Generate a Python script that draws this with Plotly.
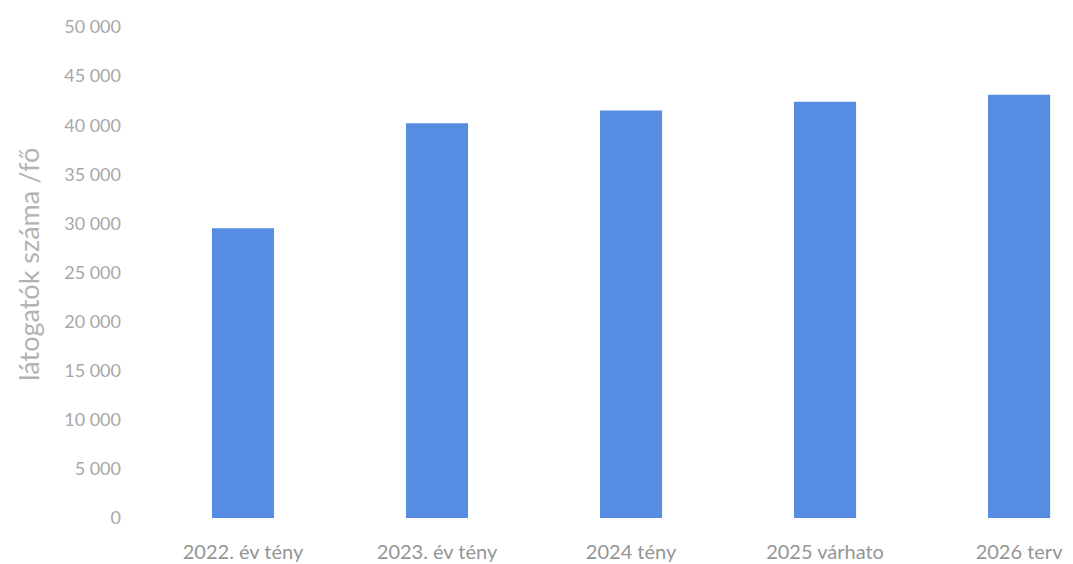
import plotly.graph_objects as go

categories = ["2022. év tény", "2023. év tény", "2024 tény", "2025 várhato", "2026 terv"]
visitors = [29500, 40200, 41500, 42400, 43100]
y_ticks = [0, 5000, 10000, 15000, 20000, 25000, 30000, 35000, 40000, 45000, 50000]
y_title = "látogatók száma /fő"

fig = go.Figure()
fig.add_trace(go.Bar(
    x=list(range(len(categories))),
    y=visitors,
    width=0.32,
    marker=dict(color="#568CE2", line=dict(width=0)),
    hoverinfo="y",
))

L, R, T, B = 118, 8, 19, 54
plot_w = 1073 - L - R

fig.update_layout(
    width=1073, height=564,
    margin=dict(l=L, r=R, t=T, b=B),
    paper_bgcolor="white", plot_bgcolor="white",
    separators=", ",
    showlegend=False,
    font=dict(family="Lato, 'Open Sans', sans-serif"),
    xaxis=dict(
        range=[-0.603, 4.278],
        tickvals=list(range(len(categories))),
        ticktext=categories,
        showgrid=False, zeroline=False, showline=False,
        tickfont=dict(size=20, color="#959595"),
        ticks="",
        ticklabelstandoff=20,
    ),
    yaxis=dict(
        range=[0, 50000],
        tickvals=y_ticks,
        tickformat=",d",
        showgrid=False, zeroline=False, showline=False,
        tickfont=dict(size=18, color="#a8a8a8"),
        ticks="",
        ticklabelstandoff=4,
    ),
    annotations=[dict(
        text=y_title, textangle=-90,
        xref="paper", yref="paper",
        x=(20 - L) / plot_w, y=(510 - 257) / (510 - 19),
        xanchor="center", yanchor="middle",
        showarrow=False,
        font=dict(size=27, color="#b3b3b3"),
    )],
)

fig.write_html("out.html")
